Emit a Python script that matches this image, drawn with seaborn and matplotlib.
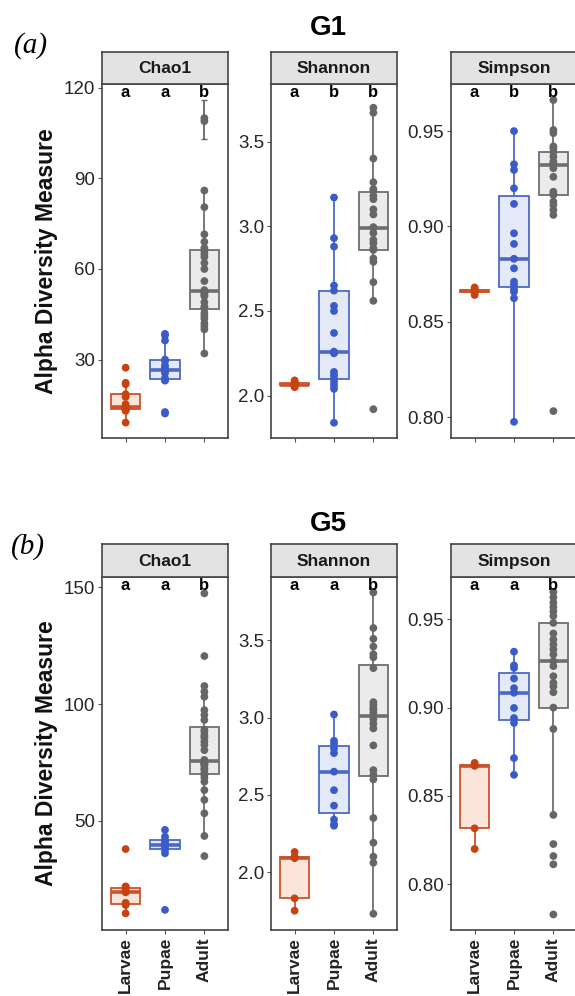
import pandas as pd
import seaborn as sns
import matplotlib.pyplot as plt
from matplotlib.ticker import FormatStrFormatter

sns.set_style("white")
plt.rcParams['font.family'] = ['Liberation Sans', 'DejaVu Sans']

groups = ["Larvae", "Pupae", "Adult"]
metrics = ["Chao1", "Shannon", "Simpson"]

# ---- G1 values ----
g1_chao1_larvae = [9.1, 13.0, 13.2, 13.5, 13.8, 14.0, 14.2, 15.2, 17.6, 18.5, 21.8, 22.3, 27.3]
g1_chao1_pupae = [12.1, 12.6, 23.0, 23.4, 23.8, 25.5, 26.2, 26.5, 27.3, 28.0, 29.5, 30.0, 36.3, 38.0, 38.5]
g1_chao1_adult = [32, 40, 41, 42, 43.5, 44.5, 45.5, 47, 47.5, 49, 51, 51.5, 52, 52.5, 53, 56, 60, 62,
                  64, 65, 66, 67, 69, 71.5, 80.5, 86, 109, 110]
g1_shannon_larvae = [2.05, 2.055, 2.06, 2.065, 2.065, 2.07, 2.075, 2.08, 2.09]
g1_shannon_pupae = [1.84, 2.04, 2.06, 2.08, 2.10, 2.12, 2.14, 2.25, 2.26, 2.37, 2.50, 2.53, 2.62, 2.65,
                    2.88, 2.93, 3.17]
g1_shannon_adult = [1.92, 2.56, 2.67, 2.79, 2.81, 2.86, 2.87, 2.90, 2.92, 2.96, 2.99, 2.995, 3.07, 3.10,
                    3.16, 3.18, 3.21, 3.22, 3.26, 3.40, 3.67, 3.70]
g1_simpson_larvae = [0.8640, 0.8650, 0.8655, 0.8660, 0.8662, 0.8665, 0.8670, 0.8680]
g1_simpson_pupae = [0.7975, 0.8623, 0.8657, 0.8670, 0.8693, 0.8710, 0.8780, 0.8830, 0.8908, 0.8964,
                    0.9118, 0.9200, 0.9296, 0.9326, 0.9500]
g1_simpson_adult = [0.8031, 0.906, 0.9086, 0.9112, 0.913, 0.9165, 0.917, 0.9182, 0.926, 0.9305, 0.932,
                    0.9322, 0.933, 0.934, 0.9366, 0.939, 0.941, 0.942, 0.9489, 0.9506, 0.9663]

# ---- G5 values ----
g5_chao1_larvae = [10.5, 14.1, 14.6, 15.0, 19.5, 20.0, 20.5, 21.9, 22.0, 38.0]
g5_chao1_pupae = [12.0, 36.2, 37.6, 38.5, 39.5, 40.0, 41.0, 41.9, 43.3, 46.2]
g5_chao1_adult = [35.0, 43.6, 53.3, 59.0, 63.2, 66.8, 68.5, 69.7, 70.5, 71.8, 72.5, 73.9, 74.0, 74.5,
                  75.0, 75.5, 76.1, 80.3, 82.5, 84.0, 85.6, 86.5, 88.0, 89.0, 93.2, 95.3, 97.4, 103.1,
                  105.3, 107.7, 120.5, 147.3]
g5_shannon_larvae = [1.75, 1.83, 2.09, 2.10, 2.13]
g5_shannon_pupae = [2.30, 2.31, 2.34, 2.43, 2.53, 2.65, 2.77, 2.80, 2.83, 2.85, 3.02]
g5_shannon_adult = [1.73, 2.06, 2.10, 2.19, 2.35, 2.60, 2.63, 2.66, 2.82, 2.93, 2.96, 2.99, 3.03, 3.05,
                    3.06, 3.08, 3.10, 3.32, 3.39, 3.41, 3.46, 3.51, 3.58, 3.81]
g5_simpson_larvae = [0.8199, 0.8316, 0.8670, 0.8676, 0.8687]
g5_simpson_pupae = [0.8619, 0.8714, 0.8913, 0.8941, 0.8998, 0.9084, 0.9110, 0.9165, 0.9225, 0.9239, 0.9317]
g5_simpson_adult = [0.7828, 0.8112, 0.8159, 0.8227, 0.8392, 0.8879, 0.9000, 0.9087, 0.9120, 0.914,
                    0.9178, 0.9235, 0.9263, 0.9301, 0.933, 0.9358, 0.9386, 0.9420, 0.9480, 0.9519,
                    0.9545, 0.9570, 0.9595, 0.9625, 0.9655]

# Chao1 standard error bars that stick out (group, value, se)
g1_chao1_se = [("Adult", 109.5, 6.5)]
g5_chao1_se = [("Adult", 106.4, 1.8)]

# significance letters
g1_letters = {"Chao1": ["a", "a", "b"], "Shannon": ["a", "b", "b"], "Simpson": ["a", "b", "b"]}
g5_letters = {"Chao1": ["a", "a", "b"], "Shannon": ["a", "a", "b"], "Simpson": ["a", "a", "b"]}

g1_ticks = {"Chao1": [30, 60, 90, 120], "Shannon": [2.0, 2.5, 3.0, 3.5], "Simpson": [0.80, 0.85, 0.90, 0.95]}
g5_ticks = {"Chao1": [50, 100, 150], "Shannon": [2.0, 2.5, 3.0, 3.5], "Simpson": [0.80, 0.85, 0.90, 0.95]}
g1_ylim = {"Chao1": (4, 121.3), "Shannon": (1.75, 3.84), "Simpson": (0.789, 0.9747)}
g5_ylim = {"Chao1": (3.4, 154.3), "Shannon": (1.625, 3.91), "Simpson": (0.774, 0.974)}

point_colors = {"Larvae": "#C8420F", "Pupae": "#3A5BC8", "Adult": "#666666"}
box_fill = {"Larvae": "#FBE4DA", "Pupae": "#E3E9F7", "Adult": "#EBEBEB"}
box_edge = {"Larvae": "#C9542C", "Pupae": "#4D69C4", "Adult": "#6E6E6E"}


def make_df(prefix):
    rows = []
    src = globals()
    for m in metrics:
        for g in groups:
            for v in src[f"{prefix}_{m.lower()}_{g.lower()}"]:
                rows.append({"metric": m, "group": g, "value": v})
    return pd.DataFrame(rows)


df_g1 = make_df("g1")
df_g5 = make_df("g5")

W, H = 575, 996
fig = plt.figure(figsize=(W / 100, H / 100), dpi=100)

panel_x = {"Chao1": (102, 228), "Shannon": (271, 397), "Simpson": (451, 577)}
rows_layout = [
    # df, strip top, panel top, panel bottom, letters, ticks, ylim, se, title, tag
    (df_g1, 52, 84, 438, g1_letters, g1_ticks, g1_ylim, g1_chao1_se, "G1", (328, 28), "(a)", (31, 46), False),
    (df_g5, 544, 577, 930, g5_letters, g5_ticks, g5_ylim, g5_chao1_se, "G5", (328, 524), "(b)", (28, 547), True),
]

for (df, s_top, p_top, p_bot, letters, ticks, ylims, se_list, title, tpos, tag, tagpos, show_x) in rows_layout:
    for m in metrics:
        x0, x1 = panel_x[m]
        ax = fig.add_axes([x0 / W, 1 - p_bot / H, (x1 - x0) / W, (p_bot - p_top) / H])
        sub = df[df["metric"] == m]
        for g in groups:
            sns.boxplot(data=sub[sub["group"] == g], x="group", y="value", order=groups,
                        color=box_fill[g], linecolor=box_edge[g], linewidth=1.3, width=0.75,
                        saturation=1, showcaps=False, showfliers=False,
                        medianprops={"linewidth": 2.6}, ax=ax)
        sns.stripplot(data=sub, x="group", y="value", order=groups, hue="group", hue_order=groups,
                      palette=point_colors, jitter=False, size=5.6, linewidth=0, legend=False,
                      ax=ax, zorder=3)
        if m == "Chao1":
            for g, v, se in se_list:
                ax.errorbar(groups.index(g), v, yerr=se, fmt="none", ecolor=point_colors[g],
                            elinewidth=1.3, capsize=2.5, zorder=4)
        for i, lt in enumerate(letters[m]):
            ax.text(i, 0.997, lt, transform=ax.get_xaxis_transform(), ha="center", va="top",
                    fontsize=12, fontweight="bold", color="black")
        ax.set_xlim(-0.6, 2.6)
        ax.set_ylim(*ylims[m])
        ax.set_yticks(ticks[m])
        if m == "Shannon":
            ax.yaxis.set_major_formatter(FormatStrFormatter("%.1f"))
        elif m == "Simpson":
            ax.yaxis.set_major_formatter(FormatStrFormatter("%.2f"))
        ax.set_xlabel("")
        ax.set_ylabel("")
        ax.tick_params(axis="y", labelsize=13.5, length=3, width=0.8, color="#555555",
                       labelcolor="#262626", pad=2, left=True)
        ax.tick_params(axis="x", length=3, width=0.8, color="#555555", bottom=True,
                       labelbottom=show_x, pad=2)
        if show_x:
            ax.set_xticks(range(3))
            ax.set_xticklabels(groups, rotation=90, fontsize=12.5, fontweight="bold", color="#222222")
        for sp in ax.spines.values():
            sp.set_color("#444444")
            sp.set_linewidth(1.2)

        # facet strip
        sax = fig.add_axes([x0 / W, 1 - p_top / H, (x1 - x0) / W, (p_top - s_top) / H])
        sax.set_facecolor("#E3E3E3")
        sax.set_xticks([])
        sax.set_yticks([])
        for sp in sax.spines.values():
            sp.set_color("#444444")
            sp.set_linewidth(1.2)
        sax.text(0.5, 0.48, m, ha="center", va="center", fontsize=12.5, fontweight="bold",
                 color="#1a1a1a", transform=sax.transAxes)

    fig.text(46.5 / W, 1 - (p_top + p_bot) / 2 / H, "Alpha Diversity Measure", rotation=90,
             ha="center", va="center", fontsize=16.5, fontweight="bold", color="#111111")
    fig.text(tpos[0] / W, 1 - tpos[1] / H, title, ha="center", va="center", fontsize=20,
             fontweight="bold", color="black")
    fig.text(tagpos[0] / W, 1 - tagpos[1] / H, tag, ha="center", va="center", fontsize=21,
             style="italic", family="Liberation Serif", color="black")

fig.savefig("out.png", dpi=100)
